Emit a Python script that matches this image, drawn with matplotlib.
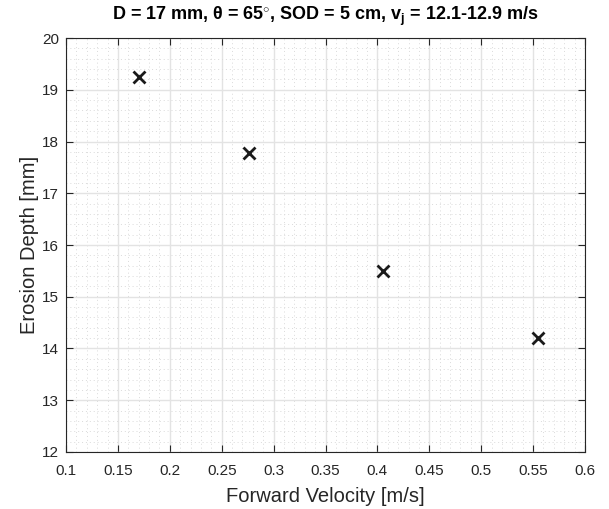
import matplotlib
matplotlib.use("Agg")
import matplotlib.pyplot as plt
from matplotlib.ticker import MultipleLocator

# forward velocity vs erosion depth
velocity = [0.170, 0.276, 0.405, 0.555]
depth = [19.25, 17.78, 15.50, 14.20]

plt.rcParams['font.family'] = ['Liberation Sans', 'DejaVu Sans']
plt.rcParams['mathtext.fontset'] = 'custom'
plt.rcParams['mathtext.rm'] = 'Liberation Sans'
plt.rcParams['mathtext.bf'] = 'Liberation Sans:bold'

fig = plt.figure(figsize=(6.09, 5.09), dpi=100)
ax = fig.add_axes([0.1084, 0.112, 0.8522, 0.8133])

ax.plot(velocity, depth, 'x', color='#1a1a1a', markersize=9, markeredgewidth=2)

ax.set_xlim(0.1, 0.6)
ax.set_ylim(12, 20)
ax.xaxis.set_major_locator(MultipleLocator(0.05))
ax.xaxis.set_minor_locator(MultipleLocator(0.01))
ax.yaxis.set_major_locator(MultipleLocator(1))
ax.yaxis.set_minor_locator(MultipleLocator(0.2))
ax.set_xticklabels([f"{v:g}" for v in ax.get_xticks()])

ax.grid(True, which='major', color='#e3e3e3', linewidth=1.0)
ax.grid(True, which='minor', color='#dadada', linestyle=(0, (1, 3)), linewidth=0.7)
ax.set_axisbelow(True)
ax.tick_params(which='both', direction='in', top=True, right=True,
               labelsize=11, colors='#262626')
ax.tick_params(which='major', length=5)
ax.tick_params(axis='x', which='major', pad=9)
ax.tick_params(axis='y', which='major', pad=5)
ax.tick_params(which='minor', length=0)
for s in ax.spines.values():
    s.set_color('#262626')
    s.set_linewidth(0.8)

ax.set_xlabel('Forward Velocity [m/s]', fontsize=14.5, color='#262626', labelpad=6)
ax.set_ylabel('Erosion Depth [mm]', fontsize=14.5, color='#262626', labelpad=2)
ax.set_title('D = 17 mm, θ = 65$^{\\circ}$, SOD = 5 cm, v$_\\mathbf{j}$ = 12.1-12.9 m/s',
             fontsize=13, fontweight='bold', pad=13)

fig.savefig('out.png', dpi=100)
